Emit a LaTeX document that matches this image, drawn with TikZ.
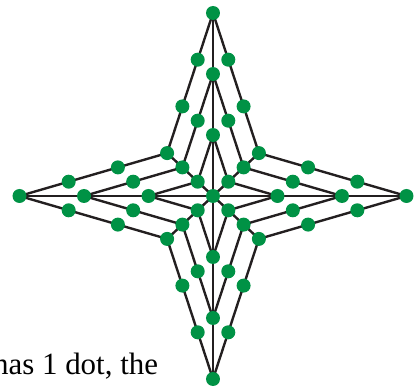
\documentclass[tikz,border=0pt]{standalone}
\usepackage{fontspec}
\setmainfont{Liberation Serif}
\usetikzlibrary{calc,backgrounds}
\definecolor{dotgreen}{HTML}{009245}
\definecolor{linkink}{HTML}{231F20}
\tikzset{
  % the counted dots
  dot/.style={
    circle, fill=dotgreen, draw=none,
    inner sep=0pt, minimum size=3.5mm,
  },
  % the star outlines and the axes through them
  link/.style={
    draw=linkink, line width=1.7pt, line join=round,
  },
  caption/.style={font=\fontsize{22}{26}\selectfont, text=black},
}
\begin{document}
\begin{tikzpicture}[x=0.25mm,y=-0.25mm]
  \useasboundingbox (0,0) rectangle (417,391);
  \clip (0,0) rectangle (417,391);

  % ---- the centre and the three nested stars -------------------------------
  \node[dot] (c) at (213,196) {};
  \foreach \k in {1,2,3} {
    \node[dot] (t\k)  at (213,{196-61*\k}) {};
    \node[dot] (b\k)  at (213,{196+61*\k}) {};
    \node[dot] (l\k)  at ({213-64.5*\k},196) {};
    \node[dot] (r\k)  at ({213+64.5*\k},196) {};
    \node[dot] (ul\k) at ({213-15.3*\k},{196-14.3*\k}) {};
    \node[dot] (ur\k) at ({213+15.3*\k},{196-14.3*\k}) {};
    \node[dot] (ll\k) at ({213-15.3*\k},{196+14.3*\k}) {};
    \node[dot] (lr\k) at ({213+15.3*\k},{196+14.3*\k}) {};
  }

  % ---- dots spaced along the edges of the two outer stars ------------------
  \foreach \k in {2,3} {
    \pgfmathtruncatemacro\kk{\k-1}
    \foreach \i in {1,...,\kk}
      \foreach \p/\q in {t/ul,ul/l,l/ll,ll/b,b/lr,lr/r,r/ur,ur/t}
        \node[dot] (\p\q\k-\i) at ($(\p\k.center)!\i/\k!(\q\k.center)$) {};
  }

  % ---- lines under the dots ------------------------------------------------
  \begin{scope}[on background layer]
    \foreach \k in {1,2,3}
      \draw[link] (t\k.center) -- (ul\k.center) -- (l\k.center)
        -- (ll\k.center) -- (b\k.center) -- (lr\k.center)
        -- (r\k.center) -- (ur\k.center) -- cycle;
    \draw[link] (t3.center) -- (b3.center);
    \draw[link] (l3.center) -- (r3.center);
    \draw[link] (ul3.center) -- (lr3.center);
    \draw[link] (ur3.center) -- (ll3.center);
  \end{scope}

  \node[caption,anchor=base east] (note) at (163,375) {has 1 dot, the};

\end{tikzpicture}
\end{document}
